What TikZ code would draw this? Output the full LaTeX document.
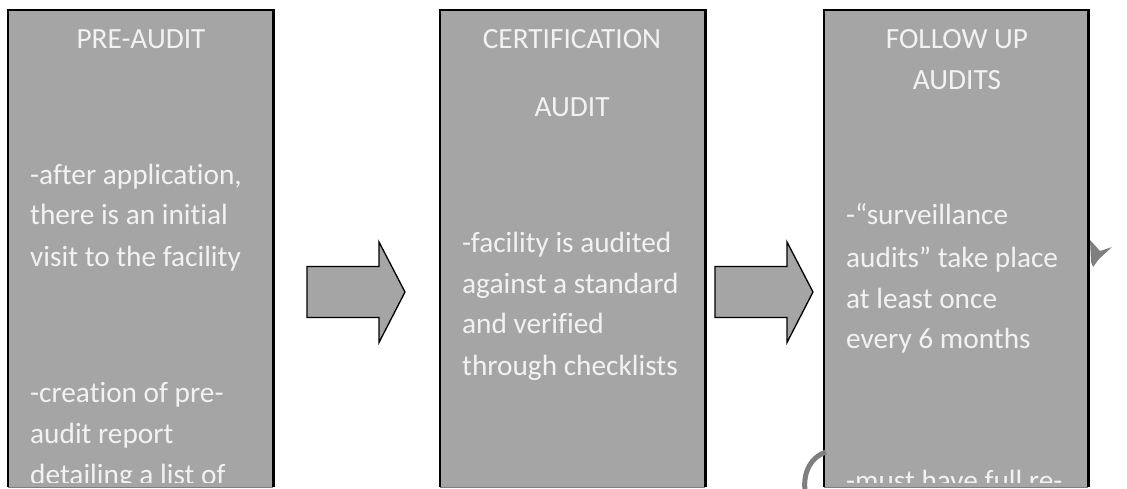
\documentclass[tikz,border=0pt]{standalone}
\usepackage{fontspec}
\setmainfont{Carlito}[Ligatures=NoCommon]
\usetikzlibrary{calc}
\definecolor{boxgrey}{HTML}{A5A5A5}
\definecolor{txtwhite}{HTML}{F2F2F2}
\definecolor{markgrey}{HTML}{7F7F7F}
\begin{document}
\begin{tikzpicture}[x=1pt,y=-1pt,
  panel/.style={fill=boxgrey, draw=none, inner sep=0pt, anchor=north west},
  edge/.style={draw=black, line width=2.4pt},
  ttl/.style={text=txtwhite, font=\fontsize{29.3}{34}\selectfont, inner sep=0pt, anchor=base},
  body/.style={text=txtwhite, font=\fontsize{29.3}{34}\selectfont, inner sep=0pt, anchor=base west},
  blockarrow/.style={fill=boxgrey, draw=black, line width=1.3pt, line join=miter}]
\useasboundingbox (0,0) rectangle (1127,489);
% panels
\node[panel, minimum width=265pt, minimum height=477pt] (b1) at (8,10) {};
\node[panel, minimum width=265pt, minimum height=477pt] (b2) at (440,10) {};
\node[panel, minimum width=264pt, minimum height=477pt] (b3) at (824,10) {};
\foreach \b in {b1,b2,b3}{
  \draw[edge] (\b.south west) -- (\b.north west) -- (\b.north east) -- (\b.south east);
  \draw[markgrey, line width=0.8pt] (\b.south west) -- (\b.south east);
}
% watermark fragments
\fill[markgrey] (1090,240) -- (1100,251) -- (1112,247) -- (1099,259) -- (1093,267) -- (1091,262) -- cycle;
\draw[markgrey, line width=5pt] (826,452) .. controls (811,457) and (803,472) .. (805,490);
% block arrows
\coordinate (a1) at (307,292);
\coordinate (a2) at (715,292);
\foreach \a in {a1,a2}{
  \draw[blockarrow] ($(\a)+(0,-25.5)$) -- ++(72,0) -- ++(0,-24.5) -- ($(\a)+(98,0)$)
    -- ($(\a)+(72,50.5)$) -- ++(0,-25) -- ($(\a)+(0,25.5)$) -- cycle;
}
% titles
\node[ttl] (t1) at (141,49) {PRE-AUDIT};
\node[ttl] (t2a) at (572,49) {CERTIFICATION};
\node[ttl] (t2b) at (572,117) {AUDIT};
\node[ttl] (t3a) at (957,49) {FOLLOW UP};
\node[ttl] (t3b) at (957,90) {AUDITS};
% body texts
\begin{scope}
\clip (0,0) rectangle (1127,482);
\node[body] (p1) at (30,185) {-after application,};
\node[body] (p2) at (30,225) {there is an initial};
\node[body] (p3) at (30,266) {visit to the facility};
\node[body] (p4) at (30,402) {-creation of pre-};
\node[body] (p5) at (30,443) {audit report};
\node[body] (p6) at (30,484) {detailing a list of};
\node[body] (c1) at (462,252) {-facility is audited};
\node[body] (c2) at (462,293) {against a standard};
\node[body] (c3) at (462,333) {and verified};
\node[body] (c4) at (462,375) {through checklists};
\node[body] (f1) at (846,225) {-“surveillance};
\node[body] (f2) at (846,267) {audits” take place};
\node[body] (f3) at (846,308) {at least once};
\node[body] (f4) at (846,348) {every 6 months};
\node[body] (f5) at (846,490) {-must have full re-};
\end{scope}
\end{tikzpicture}
\end{document}
